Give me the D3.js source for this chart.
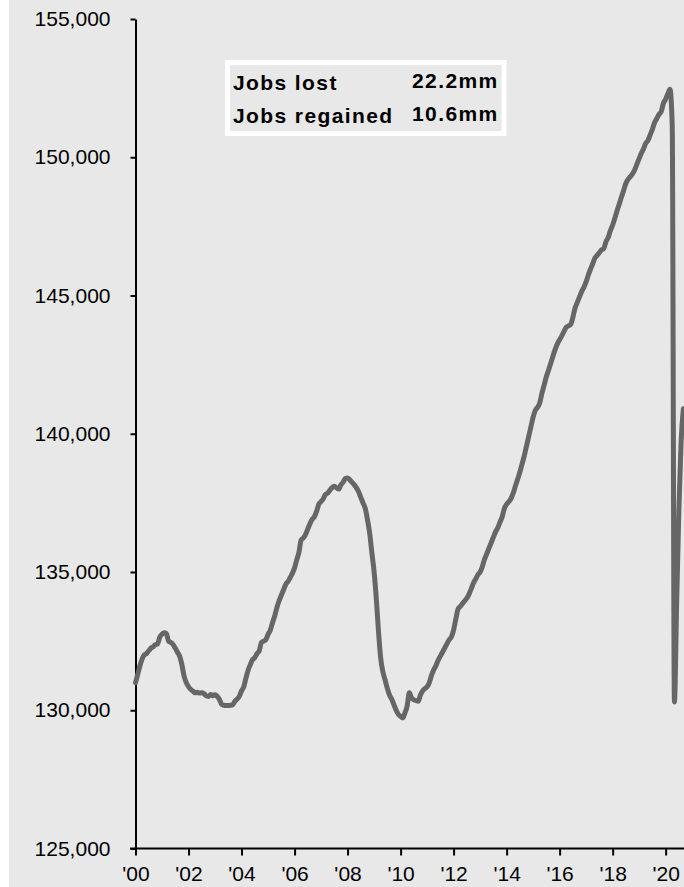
<!DOCTYPE html>
<html>
<head>
<meta charset="utf-8">
<script src="https://cdn.jsdelivr.net/npm/d3@7"></script>
<style>
  html, body { margin: 0; padding: 0; background: #ffffff; }
  svg { display: block; }
  .tick text { font-family: "Liberation Sans", Arial, sans-serif; font-size: 21px; fill: #000; }
</style>
</head>
<body>
<svg id="chart" width="684" height="887"></svg>
<script>
// Total nonfarm payrolls, thousands, monthly from Jan 2000
const payrolls2000s = [
  // 2000
  131000, 131300, 131600, 131850, 132000, 132050, 132150, 132250, 132300, 132370, 132400, 132650,
  // 2001
  132750, 132800, 132780, 132500, 132450, 132380, 132250, 132100, 131950, 131650, 131230, 131000,
  // 2002
  130850, 130750, 130700, 130630, 130650, 130620, 130630, 130600, 130520, 130500, 130570, 130520,
  // 2003
  130560, 130500, 130400, 130220, 130180, 130170, 130170, 130180, 130200, 130320, 130400, 130500,
  // 2004
  130700, 130850, 131150, 131450, 131650, 131830, 131900, 132050, 132150, 132450, 132500, 132550,
  // 2005
  132750, 132900, 133150, 133400, 133700, 133950, 134150, 134350, 134550, 134650, 134800, 134950,
  // 2006
  135150, 135450, 135700, 136150, 136230, 136350, 136550, 136750, 136900, 137000, 137200, 137450,
  // 2007
  137550, 137650, 137800, 137850, 137950, 138050, 138100, 138050, 138000, 138150, 138250, 138380,
  // 2008
  138400, 138330, 138250, 138160, 138050, 137900, 137700, 137500, 137300, 136900, 136400, 135700,
  // 2009
  135000, 134000, 132900, 131900, 131400, 131100, 130800, 130550, 130400, 130200, 130000, 129850
];
const payrolls2010s = [
  // 2010
  129780, 129720, 129900, 130150, 130630, 130450, 130380, 130350, 130330, 130550, 130700, 130780,
  // 2011
  130850, 131000, 131250, 131450, 131600, 131800, 131950, 132100, 132250, 132400, 132550, 132650,
  // 2012
  132900, 133300, 133650, 133750, 133850, 133950, 134050, 134200, 134400, 134600, 134750, 134900,
  // 2013
  135000, 135200, 135450, 135650, 135850, 136050, 136250, 136450, 136600, 136800, 137000, 137300,
  // 2014
  137450, 137550, 137650, 137850, 138100, 138350, 138600, 138900, 139200, 139550, 139900, 140250,
  // 2015
  140600, 140850, 140950, 141100, 141450, 141750, 142050, 142300, 142550, 142800, 143050, 143250,
  // 2016
  143400, 143550, 143700, 143850, 143900, 143950, 144200, 144550, 144750, 144950, 145150, 145300,
  // 2017
  145500, 145750, 145950, 146150, 146350, 146450, 146550, 146650, 146700, 146950, 147100, 147350,
  // 2018
  147550, 147800, 148050, 148300, 148550, 148800, 149050, 149200, 149300, 149400, 149550, 149750,
  // 2019
  149950, 150150, 150300, 150500, 150600, 150800, 151000, 151250, 151400, 151550, 151650, 151950
];
const payrolls2020 = [152100, 152300, 152460, 151100, 130300, 133900, 137200, 139700, 140900];

const yTicks = [125000, 130000, 135000, 140000, 145000, 150000, 155000];
const yearTicks = [2000, 2002, 2004, 2006, 2008, 2010, 2012, 2014, 2016, 2018, 2020];
const yearTickLabels = ["'00", "'02", "'04", "'06", "'08", "'10", "'12", "'14", "'16", "'18", "'20"];
const legendLabels = ["Jobs lost", "Jobs regained"];

const values = payrolls2000s.concat(payrolls2010s, payrolls2020);
const series = values.map((v, i) => ({ date: new Date(2000, i, 1), value: v }));

// Size of the 2020 drop and of the rebound since the trough, in millions
const start2020 = payrolls2000s.length + payrolls2010s.length;
const peak = d3.max(payrolls2020);
const trough = d3.min(payrolls2020);
const last = values[values.length - 1];
const legendValues = [
  d3.format(".1f")((peak - trough) / 1000) + "mm",
  d3.format(".1f")((last - trough) / 1000) + "mm"
];

const svg = d3.select("#chart");

// plot background
svg.append("rect")
  .attr("x", 9).attr("y", 0)
  .attr("width", 675).attr("height", 887)
  .attr("fill", "#e8e8e8");

const x = d3.scaleTime()
  .domain([new Date(2000, 0, 1), new Date(2020, 8, 10)])
  .range([135.5, 684]);
const y = d3.scaleLinear()
  .domain([125000, 155000])
  .range([848.5, 19]);

// x axis
const xAxis = svg.append("g")
  .attr("transform", "translate(0,848.5)")
  .call(d3.axisBottom(x)
    .tickValues(yearTicks.map(yr => new Date(yr, 0, 1)))
    .tickFormat((d, i) => yearTickLabels[i])
    .tickSizeInner(7)
    .tickSizeOuter(0)
    .tickPadding(11));

// y axis
const yAxis = svg.append("g")
  .attr("transform", "translate(135.5,0)")
  .call(d3.axisLeft(y)
    .tickValues(yTicks)
    .tickFormat(d3.format(","))
    .tickSizeInner(5)
    .tickSizeOuter(0)
    .tickPadding(20));

svg.selectAll(".domain, .tick line")
  .attr("stroke", "#000")
  .attr("stroke-width", 2);
xAxis.select(".domain").attr("d", "M130,0H684");

// payroll line
const line = d3.line()
  .x(d => x(d.date))
  .y(d => y(d.value))
  .curve(d3.curveMonotoneX);

svg.append("path")
  .datum(series)
  .attr("d", line)
  .attr("fill", "none")
  .attr("stroke", "#666666")
  .attr("stroke-width", 5)
  .attr("stroke-linejoin", "round")
  .attr("stroke-linecap", "round");

// summary box
const box = svg.append("g");
box.append("rect")
  .attr("x", 227.5).attr("y", 62.5)
  .attr("width", 276.5).attr("height", 71)
  .attr("fill", "#e8e8e8")
  .attr("stroke", "#ffffff")
  .attr("stroke-width", 5);

const rowsY = [90, 123];
legendLabels.forEach((lab, i) => {
  box.append("text")
    .attr("x", 233).attr("y", rowsY[i])
    .attr("font-family", "Liberation Sans, Arial, sans-serif")
    .attr("font-size", 21).attr("font-weight", "bold")
    .attr("letter-spacing", 1.4)
    .attr("fill", "#000")
    .text(lab);
  box.append("text")
    .attr("x", 412).attr("y", rowsY[i] - 2)
    .attr("font-family", "Liberation Sans, Arial, sans-serif")
    .attr("font-size", 21).attr("font-weight", "bold")
    .attr("letter-spacing", 1.4)
    .attr("fill", "#000")
    .text(legendValues[i]);
});
</script>
</body>
</html>
